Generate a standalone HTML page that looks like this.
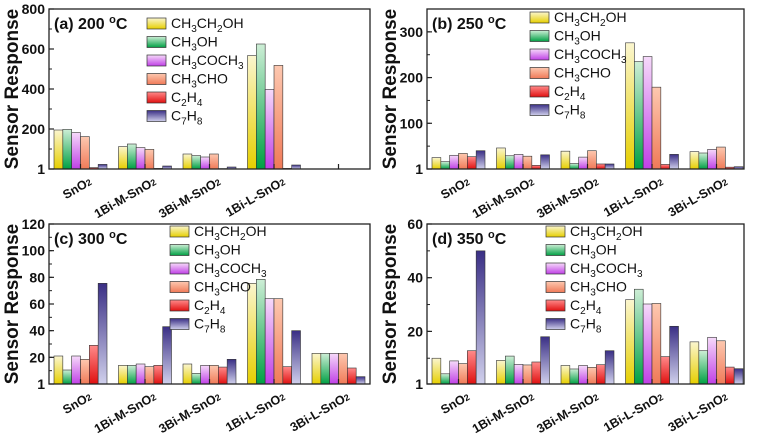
<!DOCTYPE html>
<html><head><meta charset="utf-8"><style>
body{margin:0;background:#fff;}
svg{display:block;font-family:"Liberation Sans",Arial,sans-serif;}
</style></head><body>
<svg id="chart" width="757" height="437" viewBox="0 0 757 437" xmlns="http://www.w3.org/2000/svg">
<defs>
<linearGradient id="g0" x1="0" y1="0" x2="0" y2="1"><stop offset="0" stop-color="#fbf6cf"/><stop offset="1" stop-color="#e6cf00"/></linearGradient>
<linearGradient id="g1" x1="0" y1="0" x2="0" y2="1"><stop offset="0" stop-color="#cdeed6"/><stop offset="1" stop-color="#00a044"/></linearGradient>
<linearGradient id="g2" x1="0" y1="0" x2="0" y2="1"><stop offset="0" stop-color="#f6dafa"/><stop offset="1" stop-color="#c040e6"/></linearGradient>
<linearGradient id="g3" x1="0" y1="0" x2="0" y2="1"><stop offset="0" stop-color="#fdc8b0"/><stop offset="1" stop-color="#f07a58"/></linearGradient>
<linearGradient id="g4" x1="0" y1="0" x2="0" y2="1"><stop offset="0" stop-color="#ff8a8a"/><stop offset="1" stop-color="#e01010"/></linearGradient>
<linearGradient id="g5" x1="0" y1="0" x2="0" y2="1"><stop offset="0" stop-color="#3a2f85"/><stop offset="1" stop-color="#d0d0ec"/></linearGradient>
</defs>
</svg>
<script>
const categories = ["SnO", "1Bi-M-SnO", "3Bi-M-SnO", "1Bi-L-SnO", "3Bi-L-SnO"];
const seriesNames = ["CH3CH2OH", "CH3OH", "CH3COCH3", "CH3CHO", "C2H4", "C7H8"];
// panel (a) 200 C
const a_CH3CH2OH = [195, 112, 75, 567, null];
const a_CH3OH    = [198, 125, 67, 625, null];
const a_CH3COCH3 = [182, 107, 60, 398, null];
const a_CH3CHO   = [162, 98, 75, 518, null];
const a_C2H4     = [7, 3, 2, 3, null];
const a_C7H8     = [23, 15, 10, 20, null];
const a_ticks = [1, 200, 400, 600, 800];
// panel (b) 250 C
const b_CH3CH2OH = [25, 46, 39, 276, 38];
const b_CH3OH    = [16, 29, 12, 235, 35];
const b_CH3COCH3 = [30, 32, 26, 246, 43];
const b_CH3CHO   = [34, 28, 40, 179, 48];
const b_C2H4     = [27, 8, 11, 10, 4];
const b_C7H8     = [40, 31, 11, 32, 5];
const b_ticks = [1, 100, 200, 300];
// panel (c) 300 C
const c_CH3CH2OH = [21, 14, 15, 75.5, 23];
const c_CH3OH    = [10.5, 14, 8, 78.5, 23];
const c_CH3COCH3 = [21, 15, 14, 64, 23];
const c_CH3CHO   = [18.5, 13, 14, 64, 23];
const c_C2H4     = [29, 14, 12.7, 13, 12];
const c_C7H8     = [75.5, 43, 18.5, 40, 5.5];
const c_ticks = [1, 20, 40, 60, 80, 100, 120];
// panel (d) 350 C
const d_CH3CH2OH = [10, 9.2, 7.3, 31.8, 16.1];
const d_CH3OH    = [4.2, 10.8, 6, 35.7, 12.8];
const d_CH3COCH3 = [9, 7.7, 7.3, 30.2, 17.8];
const d_CH3CHO   = [8, 7.5, 6.6, 30.4, 16.5];
const d_C2H4     = [12.8, 8.6, 7.6, 10.6, 6.7];
const d_C7H8     = [50, 18, 12.8, 21.9, 6.1];
const d_ticks = [1, 20, 40, 60];

const NS = "http://www.w3.org/2000/svg";
const svg = document.getElementById("chart");
function mk(tag, attrs, parent){const e=document.createElementNS(NS,tag);for(const k in attrs)e.setAttribute(k,attrs[k]);(parent||svg).appendChild(e);return e;}

const panels = [
 {id:"a", title:"(a) 200 ", x:49, y:9, w:321, h:160, ymin:0, ymax:800, series:[a_CH3CH2OH,a_CH3OH,a_CH3COCH3,a_CH3CHO,a_C2H4,a_C7H8], ticks:a_ticks, ncat:4, lx:147, ly:18, minor:100},
 {id:"b", title:"(b) 250 ", x:427, y:9, w:317, h:160, ymin:0, ymax:350, series:[b_CH3CH2OH,b_CH3OH,b_CH3COCH3,b_CH3CHO,b_C2H4,b_C7H8], ticks:b_ticks, ncat:5, lx:530, ly:12, minor:50},
 {id:"c", title:"(c) 300 ", x:49, y:224, w:321, h:160, ymin:0, ymax:120, series:[c_CH3CH2OH,c_CH3OH,c_CH3COCH3,c_CH3CHO,c_C2H4,c_C7H8], ticks:c_ticks, ncat:5, lx:170, ly:226, minor:10},
 {id:"d", title:"(d) 350 ", x:427, y:224, w:317, h:160, ymin:0.4, ymax:60, series:[d_CH3CH2OH,d_CH3OH,d_CH3COCH3,d_CH3CHO,d_C2H4,d_C7H8], ticks:d_ticks, ncat:5, lx:546, ly:226, minor:10}
];

const legendParts = [
  [["CH",0],["3",1],["CH",0],["2",1],["OH",0]],
  [["CH",0],["3",1],["OH",0]],
  [["CH",0],["3",1],["COCH",0],["3",1]],
  [["CH",0],["3",1],["CHO",0]],
  [["C",0],["2",1],["H",0],["4",1]],
  [["C",0],["7",1],["H",0],["8",1]]
];

panels.forEach(p=>{
  const g = mk("g",{});
  
  
  const yS = v => p.y + p.h - (v - p.ymin)/(p.ymax - p.ymin)*p.h;
  const xC = i => p.x + 31.5 + i*64.5;
  const bw = 53/6;
  p.series.forEach((arr, s)=>{
    arr.forEach((v,i)=>{
      if(v==null) return;
      const top = yS(v);
      const r = mk("rect",{x:xC(i)-26.5+s*bw, y:top, width:bw, height:Math.max(0,p.y+p.h-top), fill:"url(#g"+s+")", stroke:"#333", "stroke-width":0.6}, g);
      
      
    });
  });
  const fr = mk("rect",{x:p.x,y:p.y,width:p.w,height:p.h,fill:"none",stroke:"#222","stroke-width":1.3},g);
  
  
  for(let v=0; v<=p.ymax+1e-6; v+=p.minor){
    if(v<p.ymin) continue;
    mk("line",{x1:p.x,x2:p.x+3,y1:yS(v),y2:yS(v),stroke:"#222","stroke-width":1},g);
  }
  p.ticks.forEach(t=>{
    const tv = (t===1)? p.ymin : t;
    const yy = yS(tv);
    mk("line",{x1:p.x,x2:p.x+5,y1:yy,y2:yy,stroke:"#222","stroke-width":1.2},g);
    const tx = mk("text",{x:p.x-4,y:yy+5,"text-anchor":"end","font-size":14,"font-weight":"bold",fill:"#111"},g);
    tx.textContent = t;
    
    
  });
  const yt = mk("text",{x:0,y:0,transform:"translate("+(p.x-31)+","+(p.y+p.h/2)+") rotate(-90)","text-anchor":"middle","font-size":19,"font-weight":"bold",fill:"#111"},g);
  yt.textContent = "Sensor Response";
  
  
  for(let i=0;i<5;i++){
    mk("line",{x1:xC(i),x2:xC(i),y1:p.y+p.h,y2:p.y+p.h-5,stroke:"#222","stroke-width":1.2},g);
    if(i>=p.ncat) continue;
    const lx = xC(i)+12, ly = p.y+p.h+15;
    const t = mk("text",{x:lx,y:ly,transform:"rotate(-30 "+lx+" "+ly+")","text-anchor":"end","font-size":12.5,"font-weight":"bold",fill:"#111"},g);
    t.textContent = categories[i];
    const sub = mk("tspan",{"font-size":9},t); sub.textContent="2";
    
    
  }
  const tt = mk("text",{x:p.x+5,y:p.y+20,"font-size":16,"font-weight":"bold",fill:"#111"},g);
  tt.textContent = p.title;
  const sup = mk("tspan",{"font-size":11,dy:-6},tt); sup.textContent="o";
  const cc = mk("tspan",{dy:6},tt); cc.textContent="C";
  
  
  legendParts.forEach((parts,s)=>{
    const ry = p.ly + s*18.5;
    const sw = mk("rect",{x:p.lx,y:ry,width:19,height:11,fill:"url(#g"+s+")",stroke:"#333","stroke-width":0.7},g);
    
    
    const lt = mk("text",{x:p.lx+24,y:ry+10,"font-size":14,fill:"#111"},g);
    let prevSub = false;
    parts.forEach(([txt,isSub])=>{
      const attrs = {};
      if(isSub){ attrs["font-size"]=10; attrs.dy = prevSub?0:4; }
      else { attrs.dy = prevSub?-4:0; }
      const sp = mk("tspan",attrs,lt); sp.textContent = txt;
      prevSub = !!isSub;
    });
    
    
  });
});
</script>
</body></html>
